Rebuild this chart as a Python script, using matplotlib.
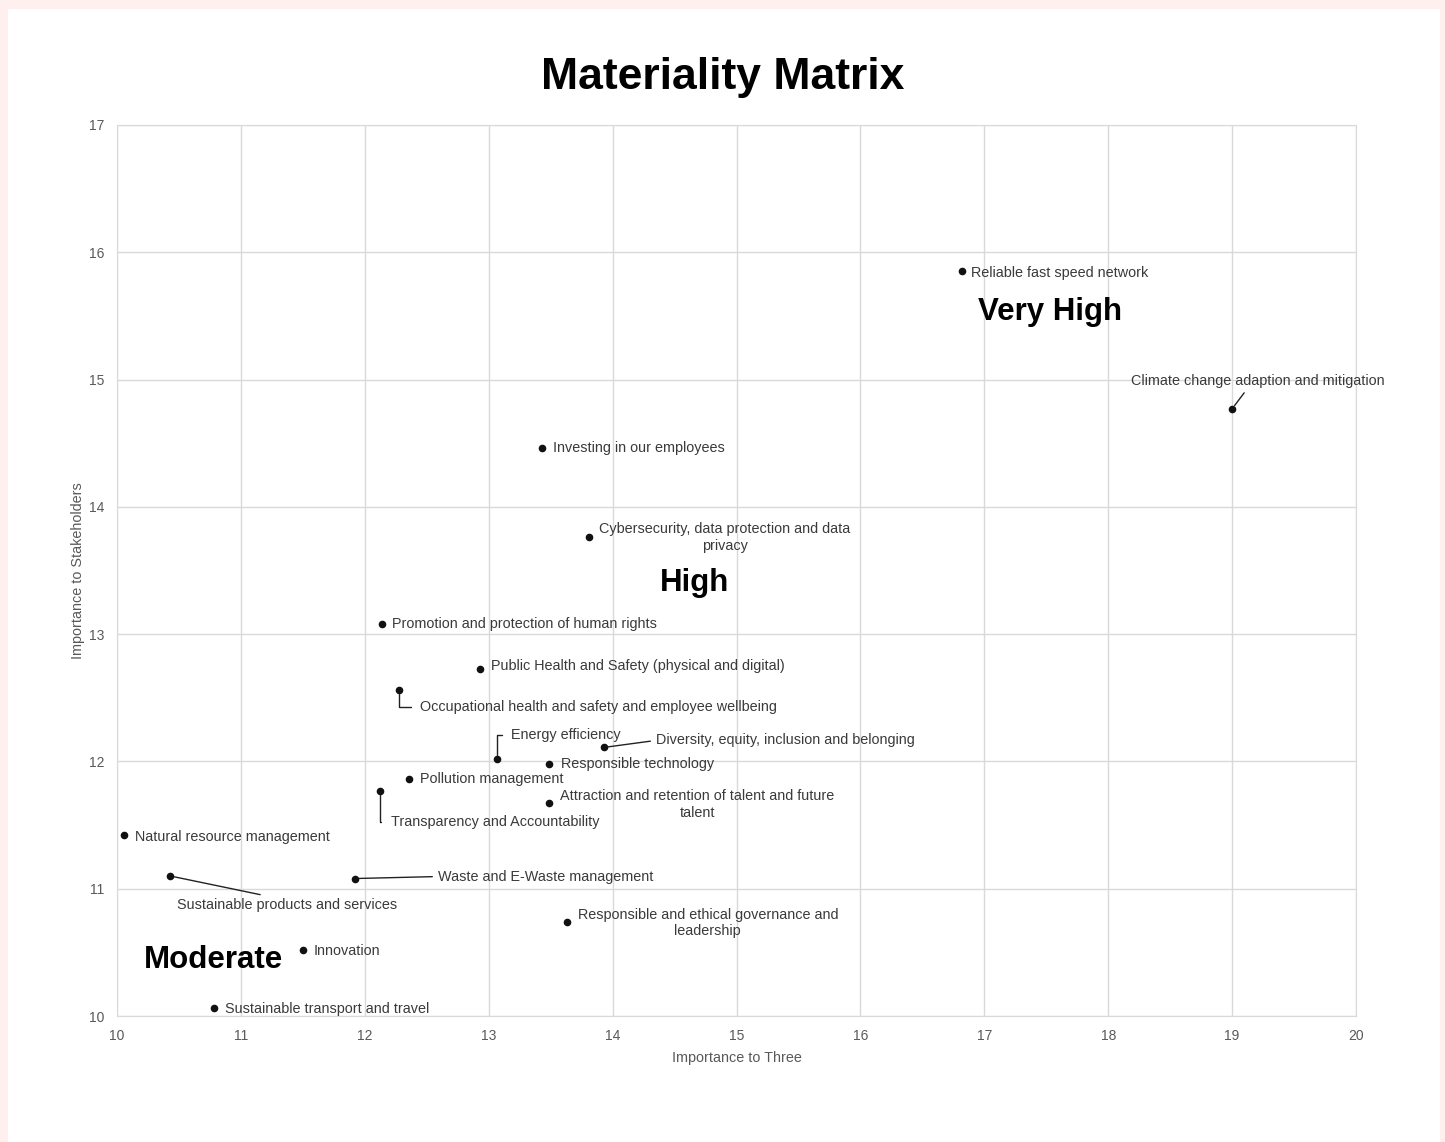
import matplotlib.pyplot as plt
from matplotlib.patches import Rectangle

# topics, importance to Three (x) and to stakeholders (y)
topics = [
    "Reliable fast speed network",
    "Climate change adaption and mitigation",
    "Investing in our employees",
    "Cybersecurity, data protection and data\nprivacy",
    "Promotion and protection of human rights",
    "Public Health and Safety (physical and digital)",
    "Occupational health and safety and employee wellbeing",
    "Energy efficiency",
    "Diversity, equity, inclusion and belonging",
    "Responsible technology",
    "Pollution management",
    "Transparency and Accountability",
    "Attraction and retention of talent and future\ntalent",
    "Natural resource management",
    "Sustainable products and services",
    "Waste and E-Waste management",
    "Responsible and ethical governance and\nleadership",
    "Innovation",
    "Sustainable transport and travel",
]
importance_three = [16.82, 19.00, 13.43, 13.81, 12.14, 12.93, 12.28, 13.07, 13.93, 13.49,
                    12.36, 12.12, 13.49, 10.06, 10.43, 11.92, 13.63, 11.50, 10.78]
importance_stake = [15.85, 14.77, 14.46, 13.76, 13.08, 12.73, 12.56, 12.02, 12.11, 11.98,
                    11.86, 11.77, 11.67, 11.42, 11.10, 11.08, 10.74, 10.52, 10.06]

# label placement: (dx px, dy px, ha, leader style, leader anchor on text)
label_layout = [
    (9, -2, "left", None, None),
    (26, 28, "center", "straight", (0.46, 0.0)),
    (11, 0, "left", None, None),
    (136, 0, "center", None, None),
    (10, 0, "left", None, None),
    (11, 3, "left", None, None),
    (21, -17, "left", "elbow", (0.0, 0.5)),
    (14, 24, "left", "elbow", (0.0, 0.5)),
    (52, 7, "left", "straight", (0.0, 0.5)),
    (12, 0, "left", None, None),
    (11, 0, "left", None, None),
    (11, -31, "left", "elbow", (0.0, 0.5)),
    (148, -1, "center", None, None),
    (11, -2, "left", None, None),
    (117, -29, "center", "straight", (0.45, 1.0)),
    (83, 2, "left", "straight", (0.0, 0.5)),
    (141, -1, "center", None, None),
    (11, -1, "left", None, None),
    (11, -1, "left", None, None),
]

zones = ["Very High", "High", "Moderate"]
zone_x = [17.53, 14.66, 10.78]
zone_y = [15.53, 13.40, 10.44]

plt.rcParams['font.family'] = ['Liberation Sans', 'DejaVu Sans']

fig = plt.figure(figsize=(14.45, 11.42), dpi=100, facecolor="#fdf0ee")
fig.patches.append(Rectangle((8 / 1445, 0), 1432 / 1445, 1133 / 1142,
                             transform=fig.transFigure, facecolor="white",
                             edgecolor="none", zorder=-10))

ax = fig.add_axes([117 / 1445, 1 - 1016 / 1142, 1239 / 1445, 891 / 1142])
ax.set_zorder(1)
ax.set_facecolor("white")
ax.set_xlim(10, 20)
ax.set_ylim(10, 17)
ax.set_xticks(range(10, 21))
ax.set_yticks(range(10, 18))
ax.grid(True, color="#d9d9d9", linewidth=1)
ax.set_axisbelow(True)
for s in ax.spines.values():
    s.set_color("#d9d9d9")
ax.tick_params(length=0, pad=9, labelsize=10, labelcolor="#595959")
ax.set_xlabel("Importance to Three", fontsize=10.4, color="#595959", labelpad=6)
ax.set_ylabel("Importance to Stakeholders", fontsize=10.4, color="#595959", labelpad=3)

ax.scatter(importance_three, importance_stake, s=20, color="#111111", zorder=3)

for name, x, y, (dx, dy, ha, leader, rel) in zip(topics, importance_three, importance_stake, label_layout):
    props = None
    if leader == "straight":
        props = dict(arrowstyle="-", color="#222222", lw=1, shrinkA=2, shrinkB=3, relpos=rel)
    elif leader == "elbow":
        props = dict(arrowstyle="-", color="#222222", lw=1, shrinkA=5, shrinkB=3, relpos=rel,
                     connectionstyle="angle,angleA=0,angleB=90,rad=0")
    ax.annotate(name, (x, y), xytext=(dx, dy), textcoords="offset pixels",
                ha=ha, va="center", multialignment="center", fontsize=10.4,
                color="#3a3a3a", arrowprops=props, zorder=4)

for z, x, y in zip(zones, zone_x, zone_y):
    ax.text(x, y, z, ha="center", va="center", fontsize=22.5, fontweight="bold", color="black")

fig.text(723 / 1445, 1 - 77 / 1142, "Materiality Matrix", ha="center", va="center",
         fontsize=32, fontweight="bold", color="black")

fig.savefig("out.png", dpi=100, facecolor=fig.get_facecolor())
